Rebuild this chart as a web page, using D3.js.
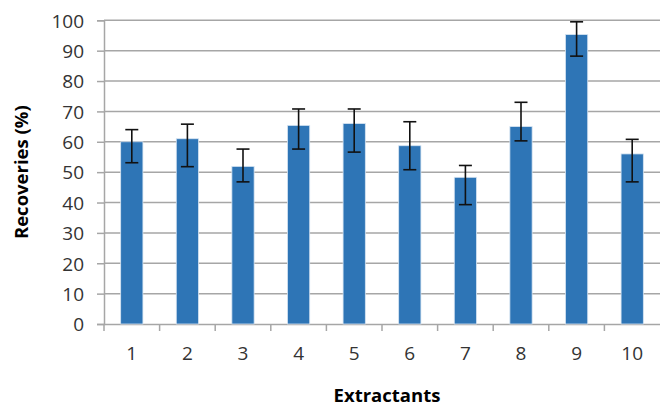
<!DOCTYPE html>
<html><head><meta charset="utf-8">
<script src="https://cdn.jsdelivr.net/npm/d3@7"></script>
<style>body{margin:0;background:#fff}svg{display:block}</style>
</head><body>
<svg id="c" width="660" height="408"></svg>
<script>
const categories = ["1","2","3","4","5","6","7","8","9","10"];
const values     = [60.0, 61.0, 51.9, 65.4, 66.0, 58.7, 48.3, 65.0, 95.3, 56.0];
const errUpper   = [64.0, 65.8, 57.6, 70.8, 70.8, 66.6, 52.2, 73.0, 99.5, 60.8];
const errLower   = [53.1, 51.8, 46.8, 57.6, 56.6, 50.8, 39.3, 60.3, 88.2, 46.8];
const yTicks     = [0,10,20,30,40,50,60,70,80,90,100];

const svg = d3.select("#c");
const L = 104, R = 660, T = 20.3, B = 324;
const x = d3.scaleBand().domain(categories).range([L, R]).paddingInner(0.6).paddingOuter(0.3);
const xb = d3.scaleBand().domain(categories).range([L, R]);
const y = d3.scaleLinear().domain([0,100]).range([B, T]);
const grid = "#a6a6a6";
const font = "'Open Sans', sans-serif";

// gridlines
svg.append("g").selectAll("line").data(yTicks.filter(d=>d>0)).join("line")
  .attr("x1", L).attr("x2", R).attr("y1", d=>y(d)).attr("y2", d=>y(d))
  .attr("stroke", grid).attr("stroke-width", 1.5);

// y axis
const ya = svg.append("g").attr("transform", `translate(${L},0)`)
  .call(d3.axisLeft(y).tickValues(yTicks).tickSize(7).tickPadding(13));
ya.select(".domain").attr("stroke", grid).attr("stroke-width", 1.5);
ya.selectAll(".tick line").attr("stroke", grid).attr("stroke-width", 1.5);
ya.selectAll("text").attr("font-family", font).attr("font-size", 19).attr("fill", "#333").attr("dy", "0.36em");

// x axis
const xa = svg.append("g").attr("transform", `translate(0,${B})`)
  .call(d3.axisBottom(xb).tickSize(0).tickPadding(23));
xa.select(".domain").attr("stroke", grid).attr("stroke-width", 1.5);
xa.selectAll("text").attr("font-family", font).attr("font-size", 19).attr("fill", "#333");
// category boundary ticks
svg.append("g").selectAll("line").data(categories).join("line")
  .attr("x1", d=>xb(d)).attr("x2", d=>xb(d)).attr("y1", B).attr("y2", B+7)
  .attr("stroke", grid).attr("stroke-width", 1.5);

// bars
svg.append("g").selectAll("rect").data(values).join("rect")
  .attr("x", (d,i)=>x(categories[i])).attr("width", x.bandwidth())
  .attr("y", d=>y(d)).attr("height", d=>B - y(d))
  .attr("fill", "#2e75b6").attr("stroke", "#d6e4f2").attr("stroke-width", 0.8);

// error bars
const eb = svg.append("g").attr("stroke", "#111").attr("stroke-width", 1.6);
categories.forEach((c,i)=>{
  const cx = x(c) + x.bandwidth()/2;
  eb.append("line").attr("x1", cx).attr("x2", cx).attr("y1", y(errUpper[i])).attr("y2", y(errLower[i]));
  [errUpper[i], errLower[i]].forEach(v=>{
    eb.append("line").attr("x1", cx-6.5).attr("x2", cx+6.5).attr("y1", y(v)).attr("y2", y(v));
  });
});

// titles
svg.append("text").attr("transform", `translate(28,${(T+B)/2}) rotate(-90)`)
  .attr("text-anchor", "middle").attr("font-family", font).attr("font-weight", "bold")
  .attr("font-size", 18.5).attr("fill", "#000").text("Recoveries (%)");
svg.append("text").attr("x", 387).attr("y", 402)
  .attr("text-anchor", "middle").attr("font-family", font).attr("font-weight", "bold")
  .attr("font-size", 18.5).attr("fill", "#000").text("Extractants");
</script>
</body></html>
